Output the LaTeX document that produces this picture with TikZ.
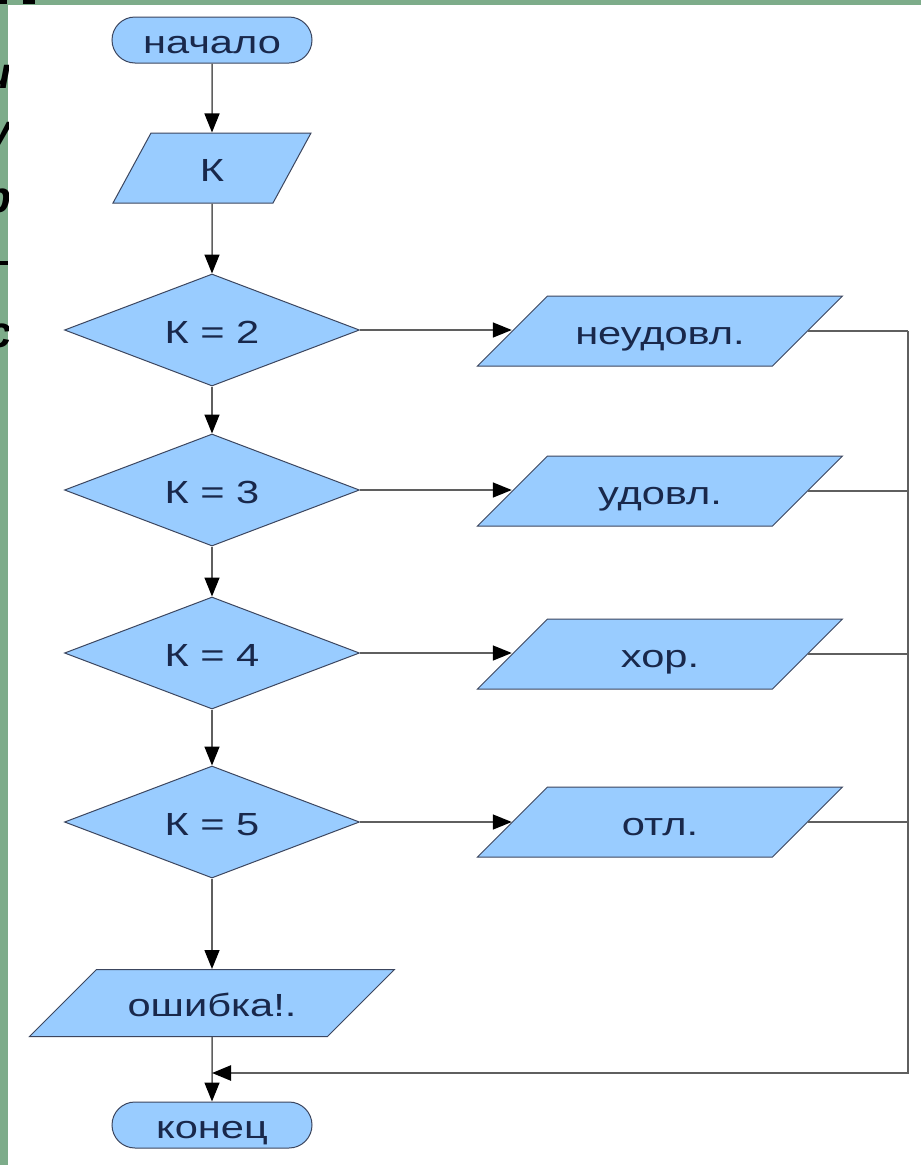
\documentclass[tikz,border=0pt]{standalone}
\usepackage{fontspec}
\usepackage{tikz}
\usetikzlibrary{shapes.geometric,shapes.misc,arrows.meta}
\newfontfamily\flowfont[FakeStretch=1.3]{Liberation Sans}
\newfontfamily\slidefont{Liberation Sans}
\definecolor{blockfill}{RGB}{153,204,255}
\definecolor{blockline}{RGB}{60,70,95}
\definecolor{blocktext}{RGB}{25,40,75}
\definecolor{wireline}{RGB}{95,95,95}
\definecolor{slidegreen}{RGB}{125,172,138}
\tikzset{
	blockbase/.style={fill=blockfill, draw=blockline, line width=1pt, text=blocktext, font=\flowfont\fontsize{32}{38}\selectfont, inner sep=0pt, text height=26pt, text depth=0pt},
	termnode/.style={blockbase, rounded rectangle, minimum width=200pt, minimum height=46pt},
	ionode/.style={blockbase, trapezium, trapezium left angle=45, trapezium right angle=135, trapezium stretches body, inner ysep=22pt, minimum width=365pt},
	testnode/.style={blockbase, diamond, aspect=2.63, minimum width=295pt, minimum height=112pt},
	wire/.style={draw=wireline, line width=1.5pt},
	arrowwire/.style={wire, -{Triangle[length=19pt,width=15pt,color=black]}},
	fragnode/.style={font=\slidefont\bfseries\itshape\fontsize{44}{50}\selectfont, inner sep=0pt}
}
\begin{document}
\begin{tikzpicture}[x=1pt,y=-1pt]
			\useasboundingbox[fill=white] (0,0) rectangle (921,1165);
			\fill[slidegreen] (0,0) rectangle (8,1165);
			\fill[slidegreen] (0,0) rectangle (921,5);
			\fill[black] (0,0) rectangle (7,4);
			\fill[black] (23,0) rectangle (35,4);
			\begin{scope}
				\clip (0,5) rectangle (8,1165);
				\node[fragnode, anchor=base east] (fragI) at (12,88) {и};
				\node[fragnode, anchor=base east] (fragU) at (12,145) {у};
				\node[fragnode, anchor=base east] (fragR) at (12,212) {р};
				\fill[black] (0,261) rectangle (8,265);
				\node[fragnode, anchor=base east] (fragS) at (12,347) {с};
			\end{scope}
			
			\node[termnode] (start) at (212,40) {начало};
			\node[ionode, trapezium left angle=61.5, trapezium right angle=118.5, minimum width=198pt] (inK) at (212,168) {К};
			\node[testnode] (t2) at (212,330) {К = 2};
			\node[testnode] (t3) at (212,490) {К = 3};
			\node[testnode] (t4) at (212,653) {К = 4};
			\node[testnode] (t5) at (212,822) {К = 5};
			\node[ionode] (o2) at (660,331) {неудовл.};
			\node[ionode] (o3) at (660,491) {удовл.};
			\node[ionode] (o4) at (660,654) {хор.};
			\node[ionode] (o5) at (660,822) {отл.};
			\node[ionode, inner ysep=20.5pt] (err) at (212,1003) {ошибка!.};
			\node[termnode] (stop) at (212,1125) {конец};
			\coordinate (busT) at (908,331);
			\coordinate (busB) at (908,1073);
			\coordinate (join) at (212,1073);
			
			\draw[arrowwire] (start) -- (inK);
			\draw[arrowwire] (inK) -- (t2);
			\draw[arrowwire] (t2) -- (t3);
			\draw[arrowwire] (t3) -- (t4);
			\draw[arrowwire] (t4) -- (t5);
			\draw[arrowwire] (t5) -- (err);
			\draw[arrowwire] (err) -- (stop);
			\foreach \i in {2,...,5} {
				\draw[arrowwire] (t\i.east) -- (t\i.east -| o\i.west);
				\draw[wire] (o\i.east) -- (o\i.east -| busT);
			}
			\draw[arrowwire, line width=2.5pt] (busT) -- (busB) -- (join);
		\end{tikzpicture}
\end{document}
